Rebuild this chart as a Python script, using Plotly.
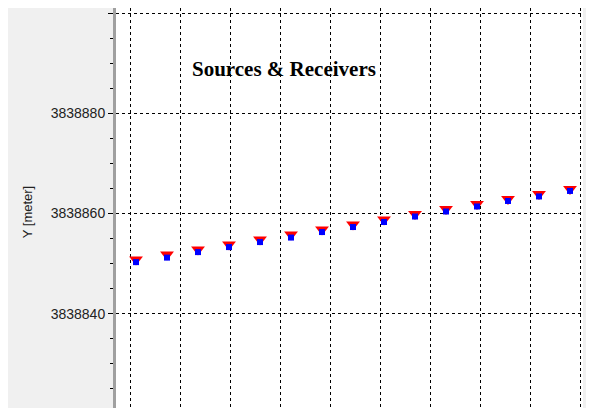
import plotly.graph_objects as go

# station positions along line (m) and northing (m)
x_pos = [1.2, 7.4, 13.6, 19.8, 26.0, 32.2, 38.4, 44.6, 50.8, 57.0, 63.2, 69.4, 75.6, 81.8, 88.0]
src_y = [3838850.8, 3838851.8, 3838852.8, 3838853.8, 3838854.8, 3838855.8, 3838856.8,
         3838857.8, 3838858.8, 3838859.9, 3838860.9, 3838861.9, 3838862.9, 3838863.9, 3838864.9]
rcv_y = [3838850.3, 3838851.2, 3838852.3, 3838853.3, 3838854.3, 3838855.2, 3838856.3,
         3838857.3, 3838858.3, 3838859.4, 3838860.4, 3838861.4, 3838862.5, 3838863.4, 3838864.5]

fig = go.Figure()
fig.add_trace(go.Scatter(x=x_pos, y=src_y, mode='markers', name='Sources',
                         marker=dict(symbol='triangle-down', size=12, color='#ff0000')))
fig.add_trace(go.Scatter(x=x_pos, y=rcv_y, mode='markers', name='Receivers',
                         marker=dict(symbol='square', size=6, color='#0000ff')))

fig.add_annotation(text='<b>Sources & Receivers</b>', xref='paper', yref='paper',
                   x=0.36, y=0.885, showarrow=False,
                   font=dict(family='Liberation Serif', size=21, color='black'))
fig.add_annotation(text='Y [meter]', xref='paper', yref='paper', x=-0.19, y=0.5,
                   textangle=-90, showarrow=False, xanchor='center',
                   font=dict(size=13, color='#222222'))

fig.update_layout(
    width=594, height=408,
    margin=dict(l=108, r=19, t=0, b=0, autoexpand=False),
    paper_bgcolor='#f0f0f0', plot_bgcolor='white',
    showlegend=False,
    font=dict(family='Liberation Sans', size=14, color='#222222'),
    xaxis=dict(range=[-2.8, 90.6], dtick=10, tick0=0, showticklabels=False,
               showgrid=True, gridcolor='black', griddash='dot', gridwidth=1,
               zeroline=False, automargin=False),
    yaxis=dict(range=[3838819.6, 3838901.0], dtick=20, tick0=3838820,
               tickformat='d', showgrid=True, gridcolor='black', griddash='dot',
               zeroline=False, ticks='outside', ticklen=5, tickcolor='black',
               minor=dict(dtick=5, ticks='outside', ticklen=3, tickcolor='black'),
               showline=True, linecolor='#a0a0a0', linewidth=3, automargin=False),
)

fig.write_html('out.html')
